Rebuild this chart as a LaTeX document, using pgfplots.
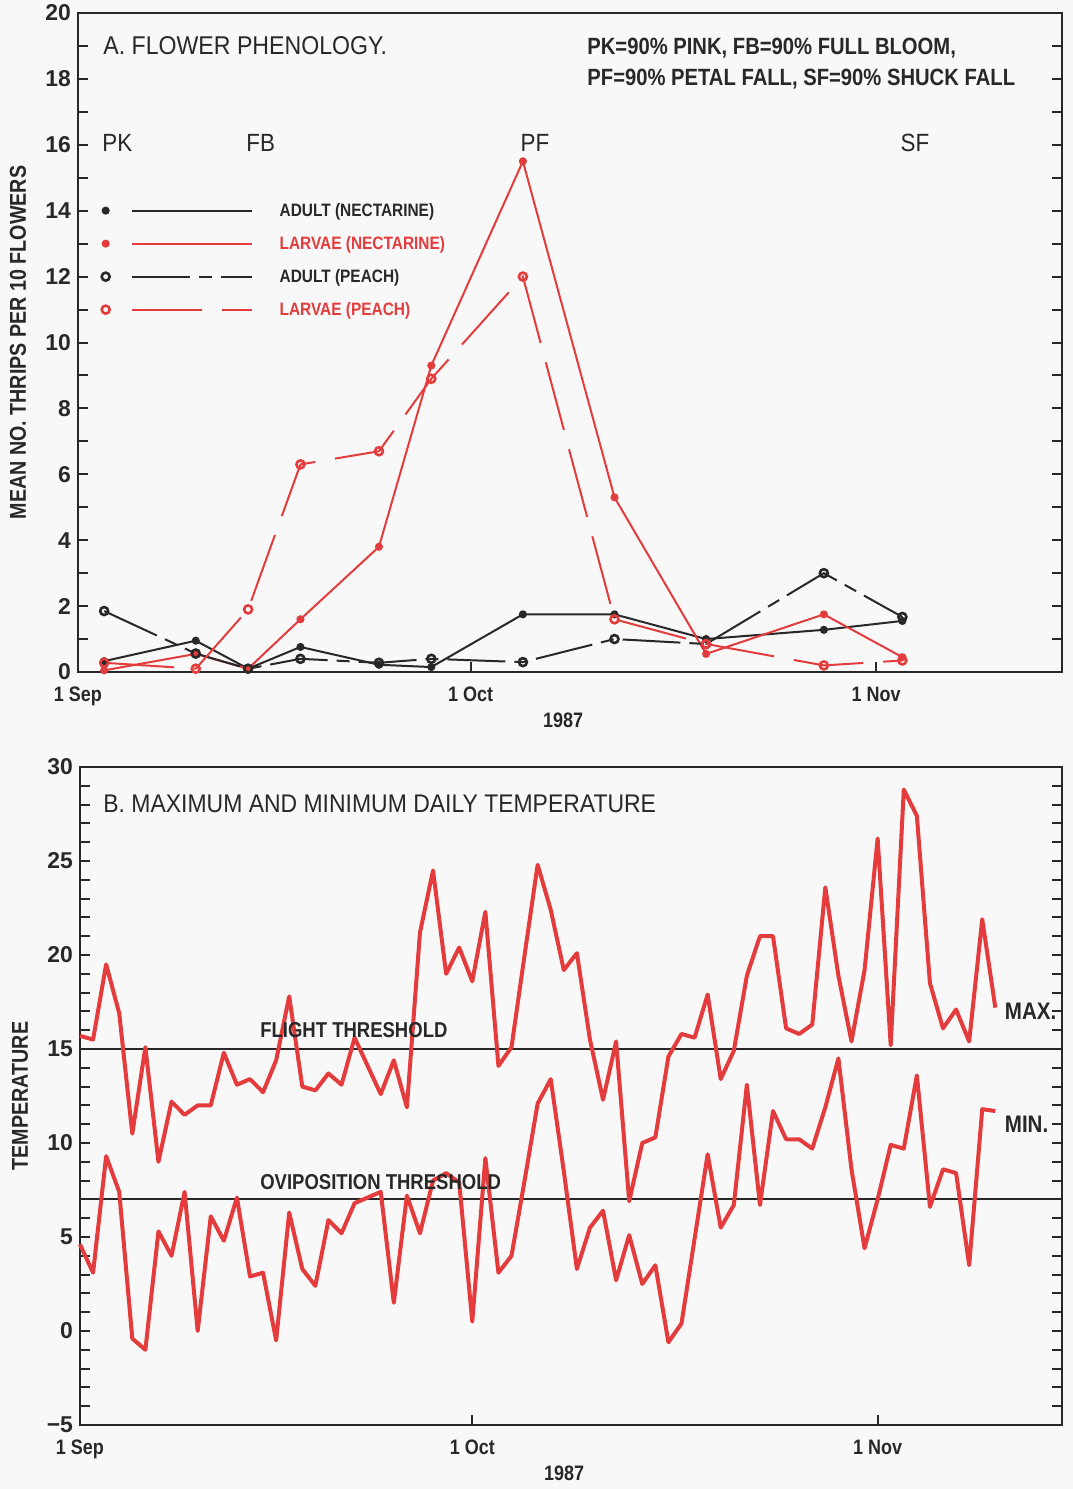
\documentclass[border=0pt]{standalone}
\usepackage{pgfplots}
\pgfplotsset{compat=1.18}
\usepackage{fontspec}
\setmainfont{Liberation Sans}[FakeStretch=0.9, BoldFeatures={FakeStretch=0.86}]
\newfontfamily\tickfont{Liberation Sans}

\definecolor{thripred}{RGB}{228,60,60}
\definecolor{ink}{RGB}{40,40,40}
\definecolor{paper}{RGB}{248,248,248}

% days counted from 1 Sep 1987 (day 0)
\pgfplotstableread{
day max min
0 15.7 4.6
1 15.5 3.1
2 19.5 9.3
3 16.9 7.4
4 10.5 -0.4
5 15.1 -1.0
6 9.0 5.3
7 12.2 4.0
8 11.5 7.4
9 12.0 0.0
10 12.0 6.1
11 14.8 4.8
12 13.1 7.1
13 13.4 2.9
14 12.7 3.1
15 14.4 -0.5
16 17.8 6.3
17 13.0 3.3
18 12.8 2.4
19 13.7 5.9
20 13.1 5.2
21 15.6 6.8
22 14.1 7.1
23 12.6 7.4
24 14.4 1.5
25 11.9 7.2
26 21.2 5.2
27 24.5 8.0
28 19.0 8.4
29 20.4 7.9
30 18.6 0.5
31 22.3 9.2
32 14.1 3.1
33 15.1 4.0
34 20.0 8.0
35 24.8 12.1
36 22.4 13.4
37 19.2 8.5
38 20.1 3.3
39 15.5 5.5
40 12.3 6.4
41 15.4 2.7
42 6.9 5.1
43 10.0 2.5
44 10.3 3.5
45 14.6 -0.6
46 15.8 0.4
47 15.6 4.9
48 17.9 9.4
49 13.4 5.5
50 14.9 6.7
51 18.9 13.1
52 21.0 6.7
53 21.0 11.7
54 16.1 10.2
55 15.8 10.2
56 16.3 9.7
57 23.6 11.9
58 18.9 14.5
59 15.4 8.6
60 19.2 4.4
61 26.2 7.0
62 15.2 9.9
63 28.8 9.7
64 27.4 13.6
65 18.5 6.6
66 16.1 8.6
67 17.1 8.4
68 15.4 3.5
69 21.9 11.8
70 17.2 11.7
}\temps

\pgfplotstableread{
day adultnec larvnec adultpch larvpch
2 0.33 0.05 1.85 0.28
9 0.95 0.55 0.56 0.10
13 0.10 0.10 0.10 1.90
17 0.76 1.60 0.40 6.30
23 0.22 3.80 0.28 6.70
27 0.15 9.30 0.40 8.90
34 1.75 15.50 0.30 12.00
41 1.75 5.30 1.00 1.60
48 1.00 0.55 0.85 0.85
57 1.28 1.75 3.00 0.20
63 1.55 0.45 1.67 0.35
}\thrips

\tikzset{lab/.style={anchor=west, inner sep=0pt, text height=0.716em, text depth=0pt, text=ink}}

\pgfplotsset{
  panel/.style={
    scale only axis,
    clip=false,
    xmin=0,
    axis line style={ink, line width=1.2bp},
    every tick/.style={ink, line width=1bp},
    tick align=inside,
    major tick length=5bp,
    minor tick length=5bp,
    xtick={0,30,61},
    xticklabels={1 Sep,1 Oct,1 Nov},
    xtick pos=bottom,
    ytick pos=both,
    x tick label style={font=\bfseries\fontsize{10.5}{11}\selectfont, text=ink, yshift=-4bp},
    y tick label style={font=\tickfont\bfseries\fontsize{11.5}{12}\selectfont, text=ink},
    xlabel={1987},
    xlabel style={at={(axis description cs:0.493,0)}, anchor=center, yshift=-24bp,
      font=\bfseries\fontsize{10.5}{11}\selectfont, text=ink},
    ylabel style={at={(axis description cs:0,0.5)}, anchor=center, yshift=30bp,
      font=\bfseries\fontsize{11.5}{12}\selectfont, text=ink},
  },
}

\begin{document}
\begin{tikzpicture}
\fill[paper] (0,0) rectangle (536.5bp,-744.5bp);
\useasboundingbox (0,0) rectangle (536.5bp,-744.5bp);

\begin{axis}[panel,
  at={(39bp,-6.5bp)}, anchor=north west,
  width=492bp, height=329.5bp,
  xmax=75.2, ymin=0, ymax=20,
  ytick={0,2,...,20},
  yticklabels={0,2,4,6,8,10,12,14,16,18,20},
  minor y tick num=1,
  ylabel={MEAN NO. THRIPS PER 10 FLOWERS},
  legend cell align=left,
  legend style={draw=none, fill=none, inner sep=0pt, outer sep=0pt,
    at={(axis cs:1.81,14.19)}, anchor=north west,
    row sep=10.3bp,
    font=\bfseries\fontsize{9}{9}\selectfont,
    nodes={inner sep=0pt, text height=6.2bp, text depth=0bp, anchor=west}},
  legend image code/.code={
    \draw[#1, mark=none] (13bp,0bp) -- (73bp,0bp);
    \draw[#1, solid] plot coordinates {(0bp,0bp)};
    \path (86.5bp,0bp);
  },
]
\addplot[ink, line width=1bp, mark=*, mark size=1.5bp]
  table[x=day, y=adultnec] {\thrips};
\addlegendentry{\textcolor{ink}{ADULT (NECTARINE)}}
\addplot[thripred, line width=1bp, mark=*, mark size=1.5bp]
  table[x=day, y=larvnec] {\thrips};
\addlegendentry{\textcolor{thripred}{LARVAE (NECTARINE)}}
\addplot[ink, line width=1bp, dash pattern=on 29bp off 4.5bp on 6.5bp off 4.5bp,
  mark=o, mark size=2bp, mark options={solid, line width=1.3bp}]
  table[x=day, y=adultpch] {\thrips};
\addlegendentry{\textcolor{ink}{ADULT (PEACH)}}
\addplot[thripred, line width=1bp, dash pattern=on 35bp off 10bp,
  mark=o, mark size=2bp, mark options={solid, line width=1.3bp}]
  table[x=day, y=larvpch] {\thrips};
\addlegendentry{\textcolor{thripred}{LARVAE (PEACH)}}

\node[lab, font=\fontsize{12.9}{13}\selectfont] at (axis cs:1.91,18.97) {A. FLOWER PHENOLOGY.};
\node[lab, font=\bfseries\fontsize{11.8}{12}\selectfont] at (axis cs:38.9,18.97) {PK=90\% PINK, FB=90\% FULL BLOOM,};
\node[lab, font=\bfseries\fontsize{11.8}{12}\selectfont] at (axis cs:38.9,18.03) {PF=90\% PETAL FALL, SF=90\% SHUCK FALL};
\node[lab, font=\fontsize{12.5}{13}\selectfont] at (axis cs:1.83,16) {PK};
\node[lab, font=\fontsize{12.5}{13}\selectfont] at (axis cs:12.84,16) {FB};
\node[lab, font=\fontsize{12.5}{13}\selectfont] at (axis cs:33.8,16) {PF};
\node[lab, font=\fontsize{12.5}{13}\selectfont] at (axis cs:62.84,16) {SF};
\end{axis}

\begin{axis}[panel,
  at={(40bp,-383.5bp)}, anchor=north west,
  width=491bp, height=329bp,
  xmax=75.1, ymin=-5, ymax=30,
  ytick={-5,0,...,30},
  yticklabels={−5,0,5,10,15,20,25,30},
  minor y tick num=4,
  ylabel={TEMPERATURE},
]
\addplot[ink, line width=1bp] coordinates {(0,15) (75.1,15)};
\addplot[ink, line width=1bp] coordinates {(0,7) (75.1,7)};
\addplot[thripred, line width=2bp, line join=round] table[x=day, y=max] {\temps};
\addplot[thripred, line width=2bp, line join=round] table[x=day, y=min] {\temps};

\node[lab, font=\fontsize{12.8}{13}\selectfont] at (axis cs:1.76,27.98) {B. MAXIMUM AND MINIMUM DAILY TEMPERATURE};
\node[lab, font=\bfseries\fontsize{10.8}{11}\selectfont] at (axis cs:13.76,16.0) {FLIGHT THRESHOLD};
\node[lab, font=\bfseries\fontsize{10.8}{11}\selectfont] at (axis cs:13.76,7.93) {OVIPOSITION THRESHOLD};
\node[lab, font=\bfseries\fontsize{12}{13}\selectfont] at (axis cs:70.7,16.97) {MAX.};
\node[lab, font=\bfseries\fontsize{12}{13}\selectfont] at (axis cs:70.7,10.96) {MIN.};
\end{axis}
\end{tikzpicture}
\end{document}
